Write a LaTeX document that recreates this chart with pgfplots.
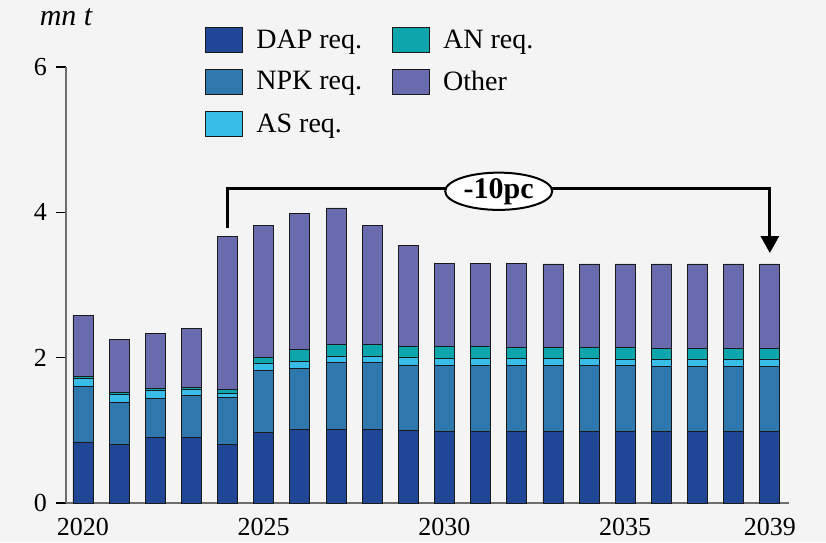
\documentclass[border=0pt]{standalone}
\usepackage{fontspec}
\setmainfont{Liberation Serif}
\usepackage{pgfplots}
\usepackage{pgfplotstable}
\pgfplotsset{compat=1.18}
\usetikzlibrary{arrows.meta,shapes.geometric}
\definecolor{bg}{HTML}{F4F4F4}
\definecolor{dap}{HTML}{1F4796}
\definecolor{npk}{HTML}{2E78AE}
\definecolor{asc}{HTML}{38BDE9}
\definecolor{anc}{HTML}{0EA6AD}
\definecolor{oth}{HTML}{6A6AAF}
\definecolor{axgrey}{HTML}{6E6E6E}
\definecolor{edge}{HTML}{1A1A1A}

\pgfplotstableread{
year dap npk as an oth
2020 0.84 0.77 0.11 0.02 0.84
2021 0.80 0.59 0.10 0.03 0.73
2022 0.90 0.54 0.11 0.03 0.75
2023 0.90 0.58 0.09 0.02 0.81
2024 0.81 0.64 0.06 0.055 2.105
2025 0.97 0.86 0.09 0.085 1.815
2026 1.01 0.84 0.095 0.165 1.88
2027 1.01 0.92 0.09 0.16 1.88
2028 1.01 0.92 0.09 0.16 1.64
2029 1.00 0.90 0.105 0.145 1.40
2030 0.99 0.905 0.095 0.16 1.15
2031 0.99 0.90 0.10 0.16 1.15
2032 0.99 0.90 0.10 0.15 1.16
2033 0.99 0.90 0.10 0.15 1.15
2034 0.99 0.90 0.10 0.15 1.15
2035 0.99 0.90 0.09 0.16 1.15
2036 0.99 0.89 0.10 0.15 1.16
2037 0.99 0.89 0.10 0.15 1.16
2038 0.99 0.89 0.10 0.15 1.16
2039 0.99 0.89 0.10 0.15 1.16
}\data

\begin{document}
\begin{tikzpicture}
\useasboundingbox[fill=bg] (-33pt,-19.5pt) rectangle (380pt,251.5pt);
\begin{axis}[
  at={(0,0)}, anchor=south west, scale only axis,
  width=361.5pt, height=218pt,
  xmin=2019.53, xmax=2039.53, ymin=0, ymax=6,
  ybar stacked, bar width=10pt,
  axis x line*=bottom, axis y line*=left,
  axis line style={axgrey, line width=0.8pt},
  xtick={2020,2025,2030,2035,2039},
  x tick style={draw=none},
  ytick={0,2,4,6},
  y tick style={black, line width=0.6pt},
  tick align=outside, major tick length=5pt,
  /pgf/number format/assume math mode=true,
  xticklabel style={/pgf/number format/1000 sep=, font=\fontsize{13}{15}\selectfont, yshift=1pt},
  yticklabel style={font=\fontsize{13}{15}\selectfont, xshift=-1pt},
  legend columns=3, transpose legend, legend cell align=left,
  legend style={at={(0.184,1.105)}, anchor=north west, draw=none, fill=none,
    font=\fontsize{14}{16}\selectfont, row sep=6pt,
    /tikz/every odd column/.append style={column sep=3.5pt},
    /tikz/every even column/.append style={column sep=12pt},
    nodes={inner xsep=3pt}},
  legend image code/.code={\draw[#1, draw=edge, line width=0.5pt] (0pt,-6.25pt) rectangle (18.5pt,6.25pt);},
  every axis plot/.append style={draw=edge, line width=0.4pt},
  clip=false,
]
\addplot[fill=dap] table[x=year,y=dap]{\data};
\addplot[fill=npk] table[x=year,y=npk]{\data};
\addplot[fill=asc] table[x=year,y=as]{\data};
\addplot[fill=anc] table[x=year,y=an]{\data};
\addplot[fill=oth] table[x=year,y=oth]{\data};
\legend{DAP req., NPK req., AS req., AN req., Other}
\coordinate (L0) at (axis cs:2024,3.78);
\coordinate (L1) at (axis cs:2024,4.33);
\coordinate (R1) at (axis cs:2039,4.33);
\coordinate (R0) at (axis cs:2039,3.44);
\coordinate (E) at (axis cs:2031.5,4.29);
\end{axis}
\draw[line width=1.5pt] (L0) -- (L1) -- (R1);
\draw[line width=1.5pt, -{Triangle[width=9pt,length=8.5pt]}] ([yshift=0.75pt]R1) -- (R0);
\node[ellipse, draw, fill=white, line width=1pt, minimum width=53.5pt, minimum height=16.5pt, inner sep=0pt,
  font=\fontsize{15}{17}\selectfont\bfseries] at (E) {-10pc};
\node[font=\fontsize{15}{17}\selectfont\itshape] at (0pt,243pt) {mn t};
\end{tikzpicture}
\end{document}
